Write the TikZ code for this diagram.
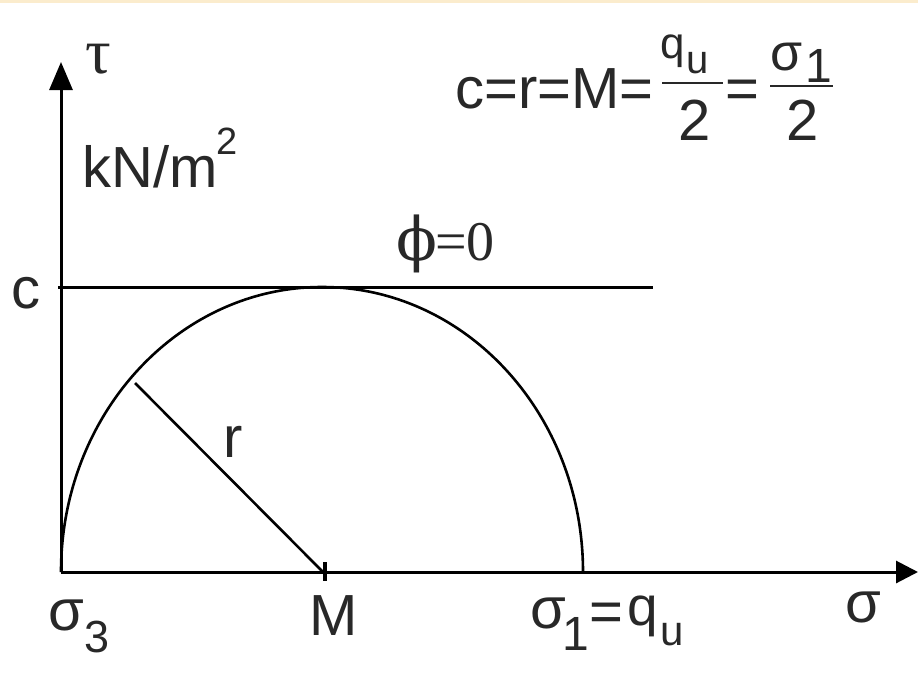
\documentclass[tikz,border=0pt]{standalone}
\usepackage{fontspec}
\setmainfont{Liberation Sans}
\newfontfamily\serifgr{Liberation Serif}
\newfontfamily\phifont{DejaVu Serif}
\usetikzlibrary{arrows.meta}
\definecolor{topband}{RGB}{251,236,205}
\definecolor{ink}{RGB}{40,40,40}
\begin{document}
\begin{tikzpicture}[x=1pt,y=1pt,
  axis/.style={line width=3pt, draw=black},
  curve/.style={line width=2.6pt, draw=black},
  bar/.style={line width=1.6pt, draw=ink},
  lbl/.style={inner sep=0pt, anchor=base west, text=ink, font=\fontsize{58}{60}\selectfont},
  fs44/.style={font=\fontsize{44}{46}\selectfont},
  fs40/.style={font=\fontsize{40}{42}\selectfont},
  fs48/.style={font=\fontsize{48}{50}\selectfont},
  fs52/.style={font=\fontsize{52}{54}\selectfont},
  fs55/.style={font=\fontsize{55}{57}\selectfont},
  fs45/.style={font=\fontsize{45}{47}\selectfont},
  fs42/.style={font=\fontsize{42}{44}\selectfont}]
\useasboundingbox (0,0) rectangle (918,-681);
\fill[white] (0,0) rectangle (918,-681);
\fill[topband] (0,0) rectangle (918,-3);

% key points
\coordinate (O) at (61,-572);
\coordinate (Ytip) at (61,-62);
\coordinate (Xtip) at (918,-572);
\coordinate (C) at (58,-287);
\coordinate (Cend) at (653,-287);
\coordinate (M) at (323,-572);
\coordinate (P) at (135,-383);
\coordinate (Mtop) at (325,-562);
\coordinate (Mbot) at (325,-581);
\coordinate (b1a) at (662,-83);
\coordinate (b1b) at (723,-83);
\coordinate (b2a) at (770,-86);
\coordinate (b2b) at (833,-86);

% axes and lines
\draw[axis,-{Triangle[width=23pt,length=28pt]}] (O) -- (Ytip);
\draw[axis,-{Triangle[width=22pt,length=22pt]}] (O) -- (Xtip);
\draw[axis] (C) -- (Cend);
\draw[curve] (O) arc[start angle=180,end angle=0,x radius=261,y radius=285];
\draw[curve] (M) -- (P);
\draw[line width=4pt] (Mtop) -- (Mbot);

% axis labels
\node[lbl,font=\serifgr\fontsize{64}{66}\selectfont] (tau) at (85,-73) {τ};
\node[lbl] (unit) at (82,-187) {kN/m\kern-1pt\raisebox{33pt}{\fontsize{38}{40}\selectfont 2}};
\node[lbl] (clbl) at (11,-308) {c};
\node[lbl] (rlbl) at (223,-457) {r};

% formula
\node[lbl] (eqA) at (455,-108) {c=r=M=};
\draw[bar] (b1a) -- (b1b);
\node[lbl,fs44] (q1) at (660,-58) {q};
\node[lbl,fs40] (u1) at (686,-73) {u};
\node[lbl] (den1) at (678,-140) {2};
\node[lbl] (eqB) at (725,-108) {=};
\draw[bar] (b2a) -- (b2b);
\node[lbl,fs52] (s1) at (770,-70) {σ};
\node[lbl,fs48] (one1) at (805,-82) {1};
\node[lbl] (den2) at (786,-140) {2};

% phi = 0
\node[lbl,font=\phifont\fontsize{60}{62}\selectfont] (phi) at (396,-260) {ϕ};
\node[lbl,font=\serifgr\fontsize{56}{58}\selectfont] (phieq) at (435,-260) {=0};

% sigma axis labels
\node[lbl] (s3) at (48,-630) {σ};
\node[lbl,fs45] (s3sub) at (84,-652) {3};
\node[lbl] (Mlbl) at (309,-635) {M};
\node[lbl] (s1b) at (530,-628) {σ};
\node[lbl,fs48] (s1bsub) at (562,-650) {1};
\node[lbl] (eqC) at (589,-631) {=};
\node[lbl,fs55] (qb) at (627,-625) {q};
\node[lbl,fs42] (ub) at (660,-645) {u};
\node[lbl] (sig) at (845,-622) {σ};
\end{tikzpicture}
\end{document}
